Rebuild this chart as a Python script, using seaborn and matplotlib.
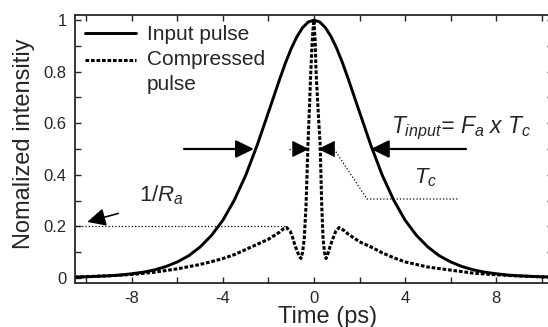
import matplotlib
matplotlib.use("Agg")
import matplotlib.pyplot as plt
from matplotlib.ticker import MultipleLocator
from matplotlib.legend_handler import HandlerLine2D
import seaborn as sns

# Input pulse
time_in = [-10.5, -10, -9.5, -9, -8.5, -8, -7.5, -7, -6.5, -6, -5.5, -5, -4.5, -4,
           -3.5, -3, -2.5, -2, -1.75, -1.5, -1.25, -1, -0.75, -0.5, -0.25, 0,
           0.25, 0.5, 0.75, 1, 1.25, 1.5, 1.75, 2, 2.5, 3, 3.5, 4, 4.5, 5, 5.5,
           6, 6.5, 7, 7.5, 8, 8.5, 9, 9.5, 10, 10.5]
input_pulse = [0.003, 0.004, 0.006, 0.008, 0.011, 0.016, 0.022, 0.031, 0.044, 0.062,
               0.086, 0.12, 0.165, 0.224, 0.302, 0.398, 0.514, 0.643, 0.708, 0.773,
               0.835, 0.89, 0.936, 0.971, 0.993, 1.0,
               0.993, 0.971, 0.936, 0.89, 0.835, 0.773, 0.708, 0.643, 0.514, 0.398,
               0.302, 0.224, 0.165, 0.12, 0.086, 0.062, 0.044, 0.031, 0.022, 0.016,
               0.011, 0.008, 0.006, 0.004, 0.003]

# Compressed pulse
time_cp = [-10.5, -10, -9, -8, -7, -6, -5, -4.5, -4, -3.5, -3, -2.5, -2, -1.5, -1.35,
           -1.2, -1.05, -0.95, -0.85, -0.75, -0.65, -0.57, -0.5, -0.43, -0.35, -0.3,
           -0.26, -0.2, -0.15, -0.1, -0.05, 0, 0.05, 0.09, 0.15, 0.2, 0.27, 0.34,
           0.4, 0.46, 0.53, 0.6, 0.7, 0.82, 0.95, 1.1, 1.3, 1.5, 2, 2.5, 3, 3.5, 4,
           5, 6, 7, 8, 9, 10, 10.5]
compressed_pulse = [0.003, 0.005, 0.008, 0.013, 0.022, 0.035, 0.052, 0.063, 0.075, 0.09,
                    0.11, 0.13, 0.15, 0.178, 0.19, 0.195, 0.182, 0.16, 0.13, 0.105,
                    0.085, 0.075, 0.10, 0.15, 0.28, 0.42, 0.53, 0.66, 0.78, 0.88,
                    0.96, 1.0, 0.92, 0.80, 0.70, 0.62, 0.52, 0.28, 0.15, 0.10,
                    0.075, 0.09, 0.12, 0.15, 0.18, 0.195, 0.185, 0.17, 0.14, 0.12,
                    0.097, 0.078, 0.062, 0.042, 0.03, 0.018, 0.012, 0.007, 0.004, 0.003]

# annotation guide lines
ra_line_x = [-10.5, -1.2]
ra_line_y = [0.2, 0.2]
tc_line_x = [0.88, 2.33, 6.37]
tc_line_y = [0.5, 0.306, 0.306]


class HandlerRaised(HandlerLine2D):
    # put the dotted sample next to the first line of a two-line label
    def create_artists(self, legend, orig_handle, xdescent, ydescent, width,
                       height, fontsize, trans):
        return super().create_artists(legend, orig_handle, xdescent, ydescent - 17,
                                      width, height, fontsize, trans)


sns.set_style("ticks", {"xtick.direction": "in", "ytick.direction": "in"})
plt.rcParams["font.family"] = ["Liberation Sans", "DejaVu Sans"]
plt.rcParams["mathtext.fontset"] = "custom"
plt.rcParams["mathtext.rm"] = "Liberation Sans"
plt.rcParams["mathtext.it"] = "Liberation Sans:italic"

fig = plt.figure(figsize=(5.48, 3.27), dpi=100)
ax = fig.add_axes([75 / 548, 44 / 327, 478 / 548, 268 / 327])

sns.lineplot(x=time_in, y=input_pulse, ax=ax, color="black", lw=2.1,
             label="Input pulse")
sns.lineplot(x=time_cp, y=compressed_pulse, ax=ax, color="black", lw=2.2,
             linestyle=(0, (1.2, 0.6)), label="Compressed\npulse")
cp_line = ax.get_lines()[1]

# guide lines
ax.plot(ra_line_x, ra_line_y, color="black", lw=0.9, linestyle=":")
ax.plot(tc_line_x, tc_line_y, color="black", lw=0.9, linestyle=":")
ax.plot([-1.1, -0.85], [0.5, 0.5], color="black", lw=0.9, linestyle=":")

head = dict(arrowstyle="-|>,head_length=0.55,head_width=0.27", mutation_scale=20,
            color="black", lw=1.6, shrinkA=0, shrinkB=0)
small = dict(head, lw=0.6)
ax.annotate("", xy=(-2.64, 0.5), xytext=(-5.71, 0.5), arrowprops=head)
ax.annotate("", xy=(2.5, 0.5), xytext=(6.68, 0.5), arrowprops=head)
ax.annotate("", xy=(-0.22, 0.5), xytext=(-0.92, 0.5), arrowprops=small)
ax.annotate("", xy=(0.18, 0.5), xytext=(0.88, 0.5), arrowprops=small)
ax.annotate("", xy=(-9.96, 0.217), xytext=(-8.6, 0.25),
            arrowprops=dict(head, lw=1.2))

ax.text(3.4, 0.562, r"$T_{input}$= $F_a$ x $T_c$", fontsize=16.5, style="italic",
        va="baseline", ha="left")
ax.text(4.4, 0.39, r"$T_c$", fontsize=16, va="center", ha="left")
ax.text(-7.7, 0.32, r"$\mathit{1/R_a}$", fontsize=16, va="center", ha="left")

ax.set_xlim(-10.5, 10.5)
ax.set_ylim(-0.02, 1.02)
ax.xaxis.set_minor_locator(MultipleLocator(2))
ax.yaxis.set_minor_locator(MultipleLocator(0.1))
ax.set_xticks([-8, -4, 0, 4, 8])
ax.set_xticklabels(["-8", "-4", "0", "4", "8"])
ax.set_yticks([0, 0.2, 0.4, 0.6, 0.8, 1.0])
ax.set_yticklabels(["0", "0.2", "0.4", "0.6", "0.8", "1"])
ax.tick_params(which="both", direction="in", top=True, right=True, length=4,
               width=1, labelsize=12, pad=6)
for s in ax.spines.values():
    s.set_linewidth(1.3)

ax.set_xlabel("Time (ps)", fontsize=17)
ax.set_ylabel("Nomalized intensitiy", fontsize=17)
ax.xaxis.set_label_coords(0.528, -0.087)
ax.yaxis.set_label_coords(-0.084, 0.519)

leg = ax.legend(loc="upper left", frameon=False, fontsize=15, handlelength=2.45,
                handletextpad=0.5, labelspacing=0.25, borderaxespad=0.25,
                borderpad=0.25, handler_map={cp_line: HandlerRaised()})
for t in leg.get_texts():
    t.set_linespacing(1.4)

fig.savefig("out.png", dpi=100)
